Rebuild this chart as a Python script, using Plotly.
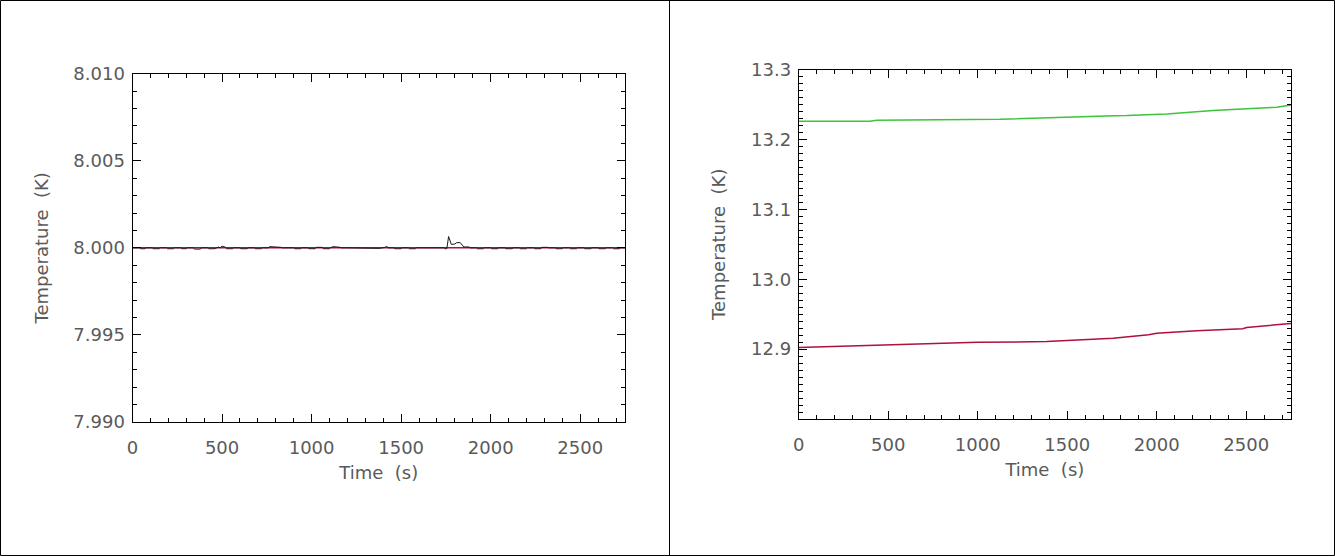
import plotly.graph_objects as go

# ---------------- data ----------------
# Left panel: temperature regulated at 8 K (black = measured, red = reference)
left_time = [0, 40, 45, 70, 75, 110, 115, 150, 155, 190, 195, 230, 235, 270, 275, 300,
             305, 340, 345, 380, 385, 420, 425, 460, 480, 490, 500, 520, 525,
             560, 565, 600, 605, 640, 645, 680, 685, 720, 725, 760, 765, 800, 805, 830,
             835, 860, 900, 905, 940, 945, 980, 985, 1020, 1025, 1060, 1065,
             1100, 1105, 1120, 1160, 1165, 1200, 1260, 1265, 1300, 1305, 1340, 1345,
             1380, 1410, 1420, 1430, 1460, 1465, 1500, 1505, 1540, 1545, 1580, 1585,
             1700, 1740, 1745, 1755, 1765, 1780, 1800, 1810, 1830, 1845, 1850, 1880,
             1885, 1920, 1925, 1960, 1965, 2000, 2005, 2040, 2045, 2080, 2085, 2120,
             2125, 2160, 2165, 2200, 2205, 2240, 2245, 2280, 2285, 2320, 2325, 2360,
             2365, 2400, 2405, 2440, 2445, 2480, 2485, 2520, 2525, 2560, 2565, 2600,
             2605, 2640, 2645, 2680, 2685, 2720, 2725, 2750]
left_black = [8.00000, 8.00000, 7.99995, 7.99995, 8.00000, 8.00000, 7.99995, 7.99995,
              8.00000, 8.00000, 7.99995, 7.99995, 8.00000, 8.00000, 7.99995, 7.99995,
              8.00000, 8.00000, 7.99993, 7.99993, 8.00000, 8.00000, 7.99995, 7.99995,
              8.00005, 8.00000, 8.00010, 8.00003, 7.99995,
              7.99995, 8.00000, 8.00000, 7.99995, 7.99995, 8.00000, 8.00000, 7.99995,
              7.99995, 8.00000, 8.00000, 8.00007, 8.00007, 8.00003, 8.00003,
              8.00000, 8.00000, 8.00000, 7.99995, 7.99995, 8.00000, 8.00000, 7.99995,
              7.99995, 8.00003, 8.00003, 7.99995,
              7.99995, 8.00000, 8.00007, 8.00003, 8.00000, 8.00000, 8.00000, 7.99997,
              7.99997, 8.00000, 8.00000, 7.99997, 7.99997, 8.00003, 8.00008, 8.00000,
              8.00000, 7.99995, 7.99995, 8.00000, 8.00000, 7.99995, 7.99995, 8.00000,
              8.00000, 8.00000, 7.99995, 7.99995, 8.00065, 8.00020, 8.00022, 8.00030,
              8.00030, 8.00010, 8.00005, 8.00005,
              8.00000, 8.00000, 7.99995, 7.99995, 8.00000, 8.00000, 7.99995, 7.99995,
              8.00000, 8.00000, 7.99995, 7.99995, 8.00000, 8.00000, 7.99995, 7.99995,
              8.00000, 8.00000, 7.99995, 7.99995, 8.00003, 8.00003, 8.00000, 8.00000,
              7.99995, 7.99995, 8.00000, 8.00000, 7.99995, 7.99995, 8.00000, 8.00000,
              7.99995, 7.99995, 8.00000, 8.00000, 7.99995, 7.99995, 8.00000, 8.00000,
              7.99995, 7.99995, 8.00000, 8.00000, 8.00000]
left_ref_time = [0, 2750]
left_ref = [8.0000, 8.0000]

# Right panel: two sensors drifting slowly
right_time_g = [0, 398, 436, 1124, 1763, 1832, 2056, 2314, 2502, 2670, 2733, 2750]
right_green = [13.2259, 13.2259, 13.2275, 13.2288, 13.2338, 13.2341, 13.2365, 13.2413,
               13.2437, 13.2460, 13.2484, 13.2490]
right_time_r = [0, 303, 497, 827, 999, 1385, 1756, 1955, 2000, 2223, 2480, 2502, 2733, 2750]
right_red = [12.9022, 12.9046, 12.9060, 12.9079, 12.9097, 12.9107, 12.9156, 12.9204,
             12.9228, 12.9261, 12.9290, 12.9308, 12.9365, 12.9368]

x_ticks = [0, 500, 1000, 1500, 2000, 2500]
left_yticks = [7.990, 7.995, 8.000, 8.005, 8.010]
left_yticktext = ["7.990", "7.995", "8.000", "8.005", "8.010"]
right_yticks = [12.9, 13.0, 13.1, 13.2, 13.3]
right_yticktext = ["12.9", "13.0", "13.1", "13.2", "13.3"]

# ---------------- figure ----------------
W, H = 1335, 556
RED = "#b0103c"
GREEN = "#3cc43c"
TXT = "#5a5a5a"
FONT = "DejaVu Sans"
FS = 18

fig = go.Figure()
fig.add_trace(go.Scatter(x=left_ref_time, y=left_ref, mode="lines",
                         line=dict(color=RED, width=1.5), xaxis="x", yaxis="y"))
fig.add_trace(go.Scatter(x=left_time, y=left_black, mode="lines",
                         line=dict(color="#1a1a1a", width=1), xaxis="x", yaxis="y"))
fig.add_trace(go.Scatter(x=right_time_g, y=right_green, mode="lines",
                         line=dict(color=GREEN, width=1.5), xaxis="x2", yaxis="y2"))
fig.add_trace(go.Scatter(x=right_time_r, y=right_red, mode="lines",
                         line=dict(color=RED, width=1.5), xaxis="x2", yaxis="y2"))


def xax(domain, anchor):
    return dict(domain=domain, anchor=anchor, range=[0, 2750], tickvals=x_ticks,
                ticks="inside", ticklen=8, tickcolor="black", tickwidth=1,
                minor=dict(ticks="inside", ticklen=4, dtick=100, tickcolor="black", tickwidth=1),
                showline=True, linecolor="black", linewidth=1, mirror="allticks",
                showgrid=False, zeroline=False, automargin=False, ticklabelstandoff=9,
                tickfont=dict(family=FONT, size=FS, color=TXT),
                title=dict(text="Time  (s)", font=dict(family=FONT, size=FS, color=TXT), standoff=9))


def yax(domain, anchor, rng, tv, tt, mdt):
    return dict(domain=domain, anchor=anchor, range=rng, tickvals=tv, ticktext=tt,
                ticks="inside", ticklen=8, tickcolor="black", tickwidth=1,
                minor=dict(ticks="inside", ticklen=4, dtick=mdt, tickcolor="black", tickwidth=1),
                showline=True, linecolor="black", linewidth=1, mirror="allticks",
                showgrid=False, zeroline=False, automargin=False, ticklabelstandoff=3,
                tickfont=dict(family=FONT, size=FS, color=TXT),
                title=dict(text="Temperature  (K)", font=dict(family=FONT, size=FS, color=TXT),
                           standoff=20))


fig.update_layout(
    width=W, height=H, template="none", showlegend=False,
    margin=dict(l=0, r=0, t=0, b=0, pad=0),
    paper_bgcolor="white", plot_bgcolor="white",
    xaxis=xax([132.5 / W, 625 / W], "y"),
    yaxis=yax([1 - 422 / H, 1 - 73.7 / H], "x", [7.99, 8.01], left_yticks, left_yticktext, 0.001),
    xaxis2=xax([798.7 / W, 1291 / W], "y2"),
    yaxis2=yax([1 - 419 / H, 1 - 69.5 / H], "x2", [12.8, 13.3], right_yticks, right_yticktext, 0.01),
)

# page frame and divider
fig.add_shape(type="rect", xref="paper", yref="paper", x0=0.5 / W, x1=1 - 0.5 / W,
              y0=0.5 / H, y1=1 - 0.5 / H, line=dict(color="black", width=1))
fig.add_shape(type="line", xref="paper", yref="paper", x0=669.5 / W, x1=669.5 / W,
              y0=0, y1=1, line=dict(color="black", width=1))

fig.write_html("out.html", config={"displayModeBar": False},
               post_script="document.body.style.margin='0';")
